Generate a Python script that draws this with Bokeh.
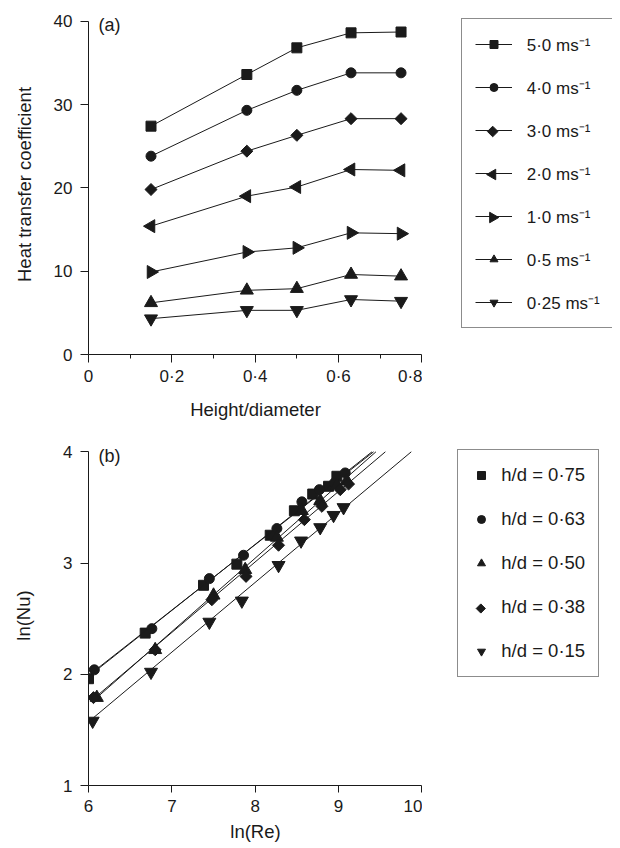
import numpy as np
from bokeh.plotting import figure
from bokeh.models import FixedTicker, Legend, LegendItem, Label, Range1d
from bokeh.layouts import column, row
from bokeh.embed import file_html
from bokeh.resources import INLINE

FONT = "Liberation Sans"
INK = "#1a1a1a"
NOPT = [np.nan]  # legend-key renderers carry no visible data

# ---------------- Panel (a) data ----------------
height_diameter = [0.15, 0.38, 0.50, 0.63, 0.75]
velocity_labels = ["5·0 ms⁻¹", "4·0 ms⁻¹", "3·0 ms⁻¹", "2·0 ms⁻¹",
                   "1·0 ms⁻¹", "0·5 ms⁻¹", "0·25 ms⁻¹"]
h_5_0 = [27.4, 33.6, 36.8, 38.6, 38.7]
h_4_0 = [23.8, 29.3, 31.7, 33.8, 33.8]
h_3_0 = [19.8, 24.4, 26.3, 28.3, 28.3]
h_2_0 = [15.4, 19.0, 20.1, 22.2, 22.1]
h_1_0 = [9.9, 12.3, 12.8, 14.6, 14.5]
h_0_5 = [6.2, 7.7, 7.9, 9.6, 9.4]
h_0_25 = [4.3, 5.3, 5.3, 6.6, 6.4]
a_xticks = [0, 0.2, 0.4, 0.6, 0.8]
a_xtick_labels = ["0", "0·2", "0·4", "0·6", "0·8"]
a_xminor = [0.1, 0.3, 0.5, 0.7]
a_yticks = [0, 10, 20, 30, 40]

# ---------------- Panel (b) data ----------------
hd_labels = ["h/d = 0·75", "h/d = 0·63", "h/d = 0·50", "h/d = 0·38", "h/d = 0·15"]
lnre_075 = [6.00, 6.68, 7.38, 7.78, 8.18, 8.47, 8.69, 8.88, 8.98]
lnnu_075 = [1.96, 2.37, 2.80, 2.99, 3.25, 3.47, 3.62, 3.69, 3.78]
lnre_063 = [6.07, 6.76, 7.45, 7.86, 8.26, 8.56, 8.77, 8.95, 9.08]
lnnu_063 = [2.04, 2.41, 2.86, 3.07, 3.31, 3.55, 3.66, 3.72, 3.81]
lnre_050 = [6.10, 6.80, 7.50, 7.88, 8.26, 8.56, 8.78, 8.98, 9.10]
lnnu_050 = [1.79, 2.22, 2.71, 2.94, 3.23, 3.47, 3.56, 3.70, 3.74]
lnre_038 = [6.06, 6.80, 7.48, 7.89, 8.28, 8.59, 8.80, 9.02, 9.12]
lnnu_038 = [1.79, 2.22, 2.67, 2.88, 3.16, 3.39, 3.51, 3.66, 3.71]
lnre_015 = [6.05, 6.75, 7.45, 7.84, 8.28, 8.55, 8.78, 8.94, 9.06]
lnnu_015 = [1.58, 2.02, 2.47, 2.66, 2.98, 3.20, 3.32, 3.43, 3.50]
fit_slope = [0.594, 0.588, 0.660, 0.634, 0.627]
fit_intercept = [-1.584, -1.539, -2.236, -2.062, -2.190]
b_xticks = [6, 7, 8, 9, 10]
b_yticks = [1, 2, 3, 4]


def style_axes(p, xtitle, ytitle, xtick_out, xlabel_standoff, xtitle_standoff, ytitle_standoff):
    p.grid.visible = False
    p.outline_line_color = None
    p.xaxis.axis_label = xtitle
    p.yaxis.axis_label = ytitle
    for ax in (p.xaxis[0], p.yaxis[0]):
        ax.axis_line_color = INK
        ax.major_tick_line_color = INK
        ax.minor_tick_line_color = INK
        ax.major_tick_in = 0
        ax.minor_tick_in = 0
        ax.major_tick_out = 8
        ax.minor_tick_out = 4
        ax.major_label_text_font = FONT
        ax.major_label_text_font_size = "17px"
        ax.major_label_text_color = INK
        ax.axis_label_text_font = FONT
        ax.axis_label_text_font_size = "18.5px"
        ax.axis_label_text_font_style = "normal"
        ax.axis_label_text_color = INK
    p.xaxis.major_tick_out = xtick_out
    p.yaxis.major_label_standoff = 8
    p.xaxis.major_label_standoff = xlabel_standoff
    p.xaxis.axis_label_standoff = xtitle_standoff
    p.yaxis.axis_label_standoff = ytitle_standoff


def legend_panel(width, frame_h, top, bottom):
    # a frame-aligned companion panel whose data units are screen pixels
    f = figure(width=width, frame_height=frame_h,
               min_border_left=0, min_border_right=0,
               min_border_top=top, min_border_bottom=bottom,
               x_range=Range1d(0, width), y_range=Range1d(0, frame_h),
               x_axis_type=None, y_axis_type=None,
               output_backend="svg", toolbar_location=None)
    f.grid.visible = False
    f.outline_line_color = None
    return f


def key_centre(lx, ly, pad, gw, ih, sp, n, i):
    h = 2 * pad + n * ih + (n - 1) * sp
    return lx + pad + gw / 2, ly + h - pad - ih / 2 - i * (ih + sp)


TOTAL_W = 612
FW = 334
LEFT = 88

# ---------------- Figure (a) ----------------
A_FH, A_TOP, A_BOT = 340, 14, 66
A_XR = (0, 0.8015)
A_YR = (0, 40.8)
p1 = figure(frame_width=FW, frame_height=A_FH,
            min_border_left=LEFT, min_border_right=0,
            min_border_top=A_TOP, min_border_bottom=A_BOT,
            x_range=Range1d(*A_XR), y_range=Range1d(*A_YR),
            output_backend="svg", toolbar_location=None)
style_axes(p1, "Height/diameter", "Heat transfer coefficient", 8, 4, 10, 16)
p1.xaxis.ticker = FixedTicker(ticks=a_xticks, minor_ticks=a_xminor)
p1.xaxis.major_label_overrides = {t: s for t, s in zip(a_xticks, a_xtick_labels)}
p1.yaxis.ticker = FixedTicker(ticks=a_yticks, minor_ticks=[])
p1.xaxis.bounds = (a_xticks[0], a_xticks[-1])
p1.yaxis.bounds = (a_yticks[0], a_yticks[-1])
p1.add_layout(Label(x=a_xticks[0], y=a_yticks[-1], text="(a)", x_offset=10, y_offset=-3.5,
                    text_baseline="middle", text_font=FONT, text_font_size="18px",
                    text_color=INK))

series_a = [h_5_0, h_4_0, h_3_0, h_2_0, h_1_0, h_0_5, h_0_25]
styles_a = [("square", 10, 0.0, 8), ("circle", 10, 0.0, 8),
            ("square", 8.5, np.pi / 4, 7.5),
            ("triangle", 13, np.pi / 2, 10.5), ("triangle", 13, -np.pi / 2, 10.5),
            ("triangle", 13, 0.0, 8), ("inverted_triangle", 13, 0.0, 8)]

l1 = legend_panel(TOTAL_W - LEFT - FW, A_FH, A_TOP, A_BOT)
LA = dict(lx=38.7, ly=26, pad=13, gw=37, ih=24, sp=19, n=len(velocity_labels))
items_a = []
for i, (lab, ys, (mk, sz, ang, lsz)) in enumerate(zip(velocity_labels, series_a, styles_a)):
    p1.line(height_diameter, ys, line_color=INK, line_width=1)
    p1.scatter(height_diameter, ys, marker=mk, size=sz, angle=ang,
               fill_color=INK, line_color=INK)
    kl = l1.line(NOPT, NOPT, line_color=INK, line_width=1)
    if ang == 0.0:
        ks = l1.scatter(NOPT, NOPT, marker=mk, size=sz, fill_color=INK, line_color=INK)
        items_a.append(LegendItem(label=lab, renderers=[kl, ks]))
    else:
        items_a.append(LegendItem(label=lab, renderers=[kl]))
        kx, ky = key_centre(i=i, **LA)
        l1.scatter([kx], [ky], marker=mk, size=lsz, angle=ang,
                   fill_color=INK, line_color=INK, level="overlay")

leg_a = Legend(items=items_a, location=(LA["lx"], LA["ly"]), margin=0,
               padding=LA["pad"], spacing=LA["sp"], glyph_width=LA["gw"], glyph_height=20,
               label_height=LA["ih"], label_standoff=15,
               label_text_font=FONT, label_text_font_size="17px",
               label_text_color=INK,
               border_line_color=INK, border_line_width=1,
               background_fill_alpha=0)
l1.add_layout(leg_a)

# ---------------- Figure (b) ----------------
B_FH, B_TOP, B_BOT = 340, 23, 63
B_XR = (6, 10.007)
B_YR = (1, 4.0567)
p2 = figure(frame_width=FW, frame_height=B_FH,
            min_border_left=LEFT, min_border_right=0,
            min_border_top=B_TOP, min_border_bottom=B_BOT,
            x_range=Range1d(*B_XR), y_range=Range1d(*B_YR),
            output_backend="svg", toolbar_location=None)
style_axes(p2, "ln(Re)", "ln(Nu)", 7, 7, 6, 26)
p2.xaxis.ticker = FixedTicker(ticks=b_xticks, minor_ticks=[])
p2.yaxis.ticker = FixedTicker(ticks=b_yticks, minor_ticks=[])
p2.xaxis.bounds = (b_xticks[0], b_xticks[-1])
p2.yaxis.bounds = (b_yticks[0], b_yticks[-1])
p2.add_layout(Label(x=b_xticks[0], y=b_yticks[-1], text="(b)", x_offset=10, y_offset=-4,
                    text_baseline="middle", text_font=FONT, text_font_size="18px",
                    text_color=INK))

xs_b = [lnre_075, lnre_063, lnre_050, lnre_038, lnre_015]
ys_b = [lnnu_075, lnnu_063, lnnu_050, lnnu_038, lnnu_015]
styles_b = [("square", 10, 0.0), ("circle", 10, 0.0), ("triangle", 13, 0.0),
            ("square", 8.5, np.pi / 4), ("inverted_triangle", 13, 0.0)]

l2 = legend_panel(TOTAL_W - LEFT - FW, B_FH, B_TOP, B_BOT)
LB = dict(lx=35.3, ly=108, pad=13, gw=20, ih=24, sp=20, n=len(hd_labels))
ytop = b_yticks[-1]
items_b = []
for i, (lab, xs, ys, m, c, (mk, sz, ang)) in enumerate(
        zip(hd_labels, xs_b, ys_b, fit_slope, fit_intercept, styles_b)):
    x0 = xs[0]
    x1 = (ytop - c) / m
    p2.line([x0, x1], [m * x0 + c, ytop], line_color=INK, line_width=1)
    p2.scatter(xs, ys, marker=mk, size=sz, angle=ang, fill_color=INK, line_color=INK)
    if ang == 0.0:
        ks = l2.scatter(NOPT, NOPT, marker=mk, size=sz, fill_color=INK, line_color=INK)
    else:
        ks = l2.scatter(NOPT, NOPT, marker="square", size=8, fill_alpha=0, line_alpha=0)
        kx, ky = key_centre(i=i, **LB)
        l2.scatter([kx], [ky], marker=mk, size=6.5, angle=ang,
                   fill_color=INK, line_color=INK, level="overlay")
    items_b.append(LegendItem(label=lab, renderers=[ks]))

leg_b = Legend(items=items_b, location=(LB["lx"], LB["ly"]), margin=0,
               padding=LB["pad"], spacing=LB["sp"], glyph_width=LB["gw"], glyph_height=20,
               label_height=LB["ih"], label_standoff=10,
               label_text_font=FONT, label_text_font_size="18.5px",
               label_text_color=INK,
               border_line_color=INK, border_line_width=1,
               background_fill_alpha=0)
l2.add_layout(leg_b)

layout = column(row(p1, l1), row(p2, l2))
open("out.html", "w").write(file_html(layout, INLINE))
